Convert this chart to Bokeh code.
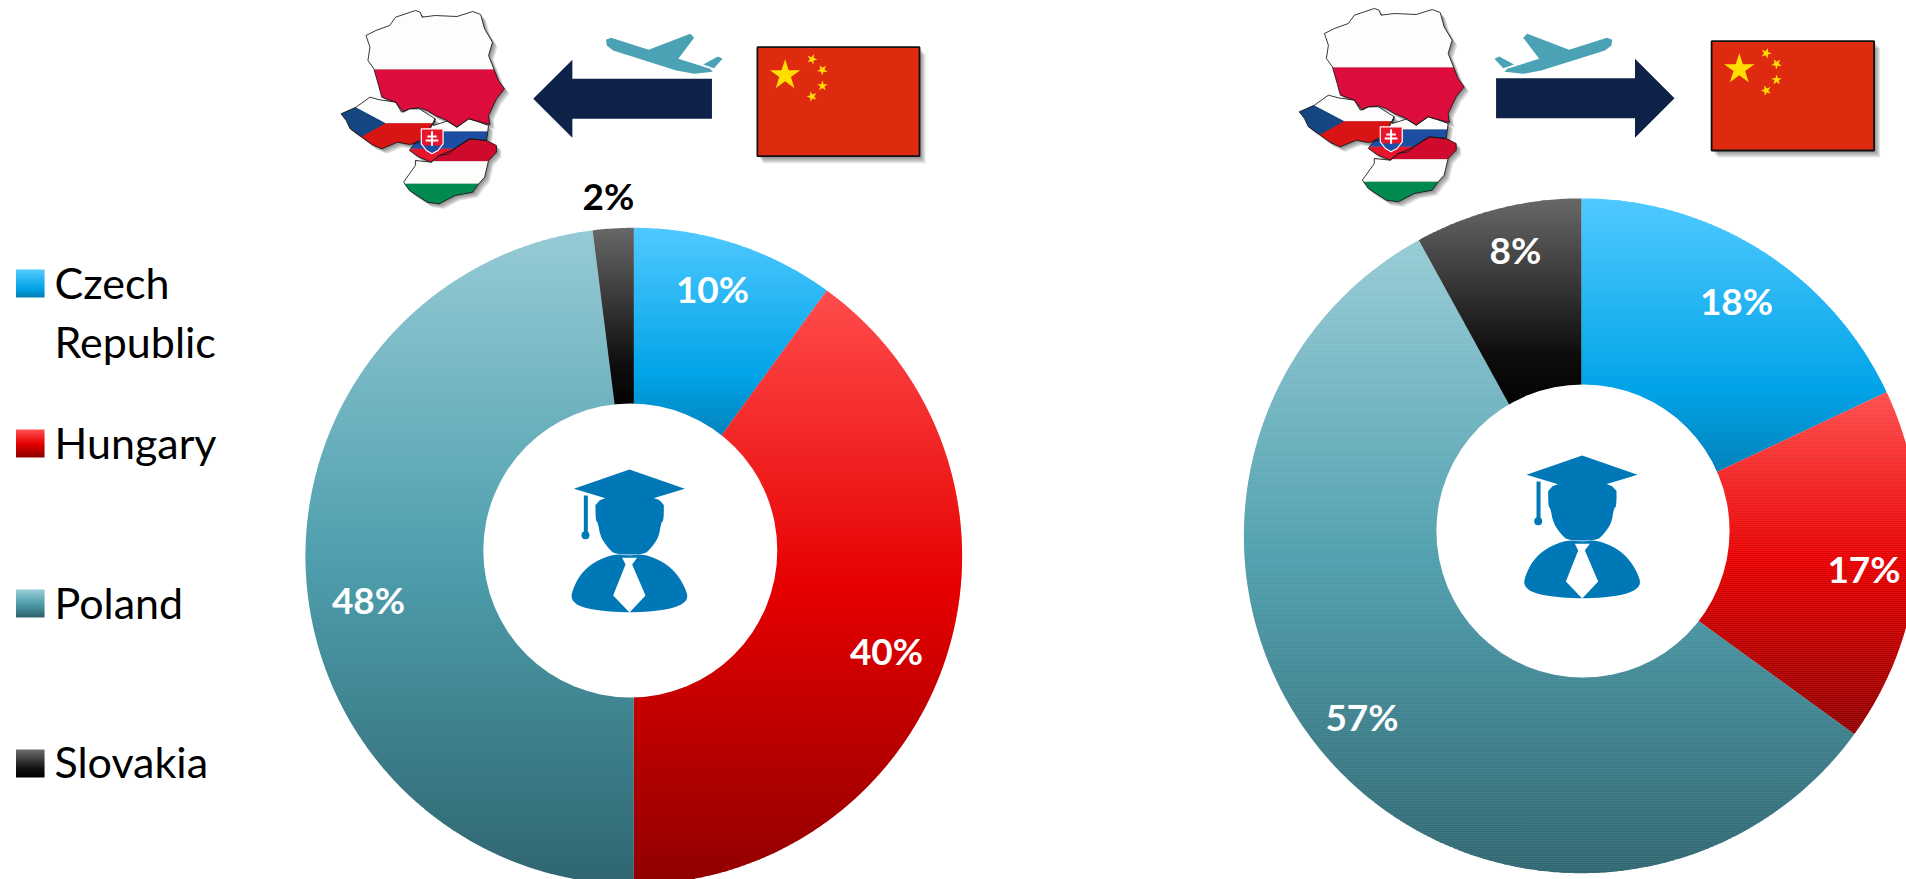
from bokeh.plotting import figure
from bokeh.models import ColumnDataSource, Range1d
from bokeh.core.properties import value
from bokeh.embed import file_html
from bokeh.resources import INLINE
import math

# Shares of students by V4 country, clockwise from twelve o'clock
countries = ["Czech Republic", "Hungary", "Poland", "Slovakia"]
inbound_share = [10, 40, 48, 2]
outbound_share = [18, 17, 57, 8]

legend_rows = ["Czech", "Republic", "Hungary", "Poland", "Slovakia"]

# Vertical gradient stops (offset, colour) of each slice, top to bottom
gradients = [
    [(0.0, "#50c9ff"), (0.68, "#02a4e8"), (1.0, "#0380b8")],
    [(0.0, "#ff4d4d"), (0.5, "#e60000"), (1.0, "#900000")],
    [(0.0, "#96cbd5"), (0.5, "#4f9fae"), (1.0, "#2f6670")],
    [(0.0, "#686868"), (0.72, "#0e0e0e"), (1.0, "#000000")],
]

WIDTH, HEIGHT = 1906, 879
p = figure(width=WIDTH, height=HEIGHT, output_backend="svg", toolbar_location=None,
           x_range=Range1d(0, WIDTH), y_range=Range1d(HEIGHT, 0), min_border=0)
p.axis.visible = False
p.grid.visible = False
p.outline_line_color = None
p.background_fill_color = "white"
p.border_fill_color = "white"


def hex_rgb(h):
    return tuple(int(h[i:i + 2], 16) for i in (1, 3, 5))


def ramp(stops, t):
    t = min(max(t, 0.0), 1.0)
    for (a, ca), (b, cb) in zip(stops, stops[1:]):
        if t <= b:
            f = (t - a) / (b - a)
            ra, rb = hex_rgb(ca), hex_rgb(cb)
            return "#%02x%02x%02x" % tuple(round(x + (y - x) * f) for x, y in zip(ra, rb))
    return stops[-1][1]


def clip_half(poly, inside, cross):
    out = []
    for i, cur in enumerate(poly):
        prev = poly[i - 1]
        if inside(cur):
            if not inside(prev):
                out.append(cross(prev, cur))
            out.append(cur)
        elif inside(prev):
            out.append(cross(prev, cur))
    return out


def clip_y(poly, y0, y1):
    def at(level):
        def cross(a, b):
            f = (level - a[1]) / (b[1] - a[1])
            return (a[0] + (b[0] - a[0]) * f, level)
        return cross
    poly = clip_half(poly, lambda q: q[1] >= y0, at(y0))
    if poly:
        poly = clip_half(poly, lambda q: q[1] <= y1, at(y1))
    return poly


def clip_side(poly, a, b):
    # keeps the part of poly on one side of the directed edge a-b
    def side(q):
        return (b[0] - a[0]) * (q[1] - a[1]) - (b[1] - a[1]) * (q[0] - a[0])

    def cross(s, e):
        f = side(s) / (side(s) - side(e))
        return (s[0] + (e[0] - s[0]) * f, s[1] + (e[1] - s[1]) * f)
    return clip_half(poly, lambda q: side(q) >= 0, cross)


def fill(poly, color, **kw):
    if poly:
        p.patch([q[0] for q in poly], [q[1] for q in poly], fill_color=color, line_color=None, **kw)


def chaikin(poly, rounds=2):
    for _ in range(rounds):
        out = []
        for i, a in enumerate(poly):
            b = poly[(i + 1) % len(poly)]
            out.append((a[0] * 0.75 + b[0] * 0.25, a[1] * 0.75 + b[1] * 0.25))
            out.append((a[0] * 0.25 + b[0] * 0.75, a[1] * 0.25 + b[1] * 0.75))
        poly = out
    return poly


def draw_pie(shares, cx, cy, r, hole_x, hole_y, hole_r):
    total = sum(shares)
    start = 0.0
    inner = hole_r - 7
    xs, ys, colors = [], [], []
    for share, stops in zip(shares, gradients):
        end = start + share / total * 360.0
        n = max(2, int((end - start) * 2))
        angles = [math.radians(start + (end - start) * i / n) for i in range(n + 1)]
        rim = [(cx + r * math.sin(a), cy - r * math.cos(a)) for a in angles]
        core = [(cx + inner * math.sin(a), cy - inner * math.cos(a)) for a in reversed(angles)]
        sector = rim + core
        top = min(q[1] for q in sector)
        bottom = max(q[1] for q in sector)
        y = top
        while y < bottom:
            band = clip_y(sector, y, y + 2.7)
            if len(band) >= 3:
                xs.append([q[0] for q in band])
                ys.append([q[1] for q in band])
                colors.append(ramp(stops, (y + 1 - top) / (bottom - top)))
            y += 2.0
        start = end
    p.patches(xs, ys, fill_color=colors, line_color=None)
    p.circle(x=[hole_x], y=[hole_y], radius=hole_r, fill_color="white", line_color=None)


def to_page(pts, ox, oy, sx=3.0, sy=3.0, mirror=None):
    if mirror is not None:
        return [(ox + (mirror - x) / sx, oy + y / sy) for x, y in pts]
    return [(ox + x / sx, oy + y / sy) for x, y in pts]


def soft_shadow(poly, dx, dy, layers=5, alpha=0.11):
    for k in range(layers):
        f = (k + 1) / layers
        fill([(x + dx * f, y + dy * f) for x, y in poly], "#000000", fill_alpha=alpha)


POLAND = [(115, 105), (140, 90), (175, 75), (190, 50), (240, 30), (252, 35), (257, 50), (290, 45),
          (345, 48), (385, 33), (405, 42), (415, 85), (435, 125), (425, 165), (440, 210), (450, 240),
          (465, 265), (445, 295), (425, 345), (428, 372), (395, 362), (375, 355), (345, 380),
          (320, 360), (290, 345), (270, 330), (250, 322), (225, 325), (210, 335), (190, 305),
          (155, 290), (147, 255), (135, 205), (120, 180), (125, 140)]
CZECHIA = [(52, 340), (90, 320), (125, 290), (150, 298), (190, 305), (205, 335), (225, 325),
           (250, 325), (290, 355), (285, 368), (270, 400), (255, 425), (225, 432), (195, 425),
           (155, 445), (130, 432), (105, 410), (75, 385), (65, 360)]
SLOVAKIA = [(290, 355), (285, 375), (320, 362), (345, 380), (375, 355), (395, 362), (425, 375),
            (420, 420), (380, 415), (345, 440), (325, 460), (300, 465), (280, 485), (250, 470),
            (225, 450), (240, 425), (262, 415)]
HUNGARY = [(300, 465), (330, 450), (345, 440), (375, 415), (420, 420), (445, 435), (445, 455),
           (425, 480), (415, 530), (400, 550), (385, 575), (340, 585), (300, 610), (270, 605),
           (225, 570), (210, 545), (240, 495), (240, 480), (280, 485)]
SHIELD = [(255, 385), (310, 385), (310, 430), (297, 450), (282, 460), (268, 450), (255, 430)]


def draw_map(ox, oy, sx):
    pieces = [to_page(c, ox, oy, sx) for c in (POLAND, CZECHIA, SLOVAKIA, HUNGARY)]
    for piece in pieces:
        soft_shadow(piece, 5, 5, layers=4, alpha=0.13)
    pl, cz, sk, hu = pieces
    s = lambda v: oy + v / 3
    fx = lambda v: ox + v / sx
    fill(clip_y(pl, -1e4, s(207)), "#fdfdfb")
    fill(clip_y(pl, s(207), 1e4), "#dc0c3c")
    fill(clip_y(cz, -1e4, s(368)), "#fdfdfb")
    fill(clip_y(cz, s(368), 1e4), "#d91414")
    tri = to_page([(40, 290), (165, 368), (40, 450)], ox, oy, sx)
    blue = clip_side(clip_side(cz, tri[0], tri[1]), tri[1], tri[2])
    fill(blue, "#164682")
    fill(clip_y(sk, -1e4, s(393)), "#fdfdfb")
    fill(clip_y(sk, s(393), s(445)), "#1d4ea4")
    fill(clip_y(sk, s(445), 1e4), "#e8162c")
    fill(clip_y(hu, -1e4, s(482)), "#d00a2c")
    fill(clip_y(hu, s(482), s(550)), "#fdfdfb")
    fill(clip_y(hu, s(550), 1e4), "#008a50")
    for piece in pieces:
        p.patch([q[0] for q in piece], [q[1] for q in piece], fill_color=None,
                line_color="#141414", line_width=1.0, line_alpha=0.85)
    shield = to_page(SHIELD, ox, oy, sx)
    fill(shield, "#e8162c")
    fill(clip_y(shield, s(435), 1e4), "#1d4ea4")
    p.patch([q[0] for q in shield], [q[1] for q in shield], fill_color=None, line_color="white", line_width=1.2)
    p.segment([fx(282), fx(270), fx(266)], [s(392), s(408), s(420)],
              [fx(282), fx(294), fx(298)], [s(436), s(408), s(420)], line_color="white", line_width=2)


def star(cx, cy, r, turn=0.0):
    pts = []
    for i in range(10):
        a = math.radians(-90 + 36 * i + turn)
        rad = r if i % 2 == 0 else r * 0.382
        pts.append((cx + rad * math.cos(a), cy + rad * math.sin(a)))
    return pts


def draw_flag(x0, y0, x1, y1):
    rect = [(x0, y0), (x1, y0), (x1, y1), (x0, y1)]
    soft_shadow(rect, 6, 7, layers=5, alpha=0.10)
    p.patch([q[0] for q in rect], [q[1] for q in rect], fill_color="#de2b10", line_color="#111111", line_width=1.8)
    fill(star(x0 + 27.7, y0 + 28, 16), "#ffdf00")
    for dx, dy, t in [(54.6, 12, 20), (65, 22.7, 40), (65, 38.7, 0), (54.6, 49.3, -20)]:
        fill(star(x0 + dx, y0 + dy, 5.5, t), "#ffdf00")


PLANE_BODY = [(722, 118), (735, 112), (830, 148), (935, 100), (945, 112), (905, 175), (985, 205),
              (992, 214), (945, 220), (900, 210), (740, 150), (724, 135)]
PLANE_FIN = [(968, 192), (1005, 168), (1017, 175), (995, 203)]

CAP = [(130, 145), (297, 87), (463, 145), (297, 195)]
HEAD = [(195, 165), (195, 240), (202, 245), (210, 290), (235, 325), (255, 342), (340, 342),
        (360, 325), (385, 290), (392, 245), (400, 240), (400, 165)]
BODY = [(250, 340), (190, 365), (150, 400), (125, 450), (122, 478), (150, 500), (220, 512), (297, 516),
        (375, 512), (440, 500), (472, 478), (468, 450), (440, 400), (400, 365), (340, 340), (297, 346)]
TIE = [(275, 352), (320, 352), (305, 372), (345, 465), (297, 516), (248, 465), (285, 372)]
TASSEL = [(160, 165), (172, 165), (172, 275), (160, 275)]


def draw_student(ox, oy):
    blue = "#0078b8"
    fill(to_page(CAP, ox, oy), blue)
    fill(to_page(TASSEL, ox, oy), blue)
    fill(chaikin(to_page(HEAD, ox, oy), 2), blue)
    fill(chaikin(to_page(BODY, ox, oy), 2), blue)
    fill(to_page(TIE, ox, oy), "white")
    p.circle(x=[ox + 165 / 3], y=[oy + 284 / 3], radius=4, fill_color=blue, line_color=None)


def labels(xs, ys, texts, color, size, style="bold", align="center", baseline="middle"):
    src = ColumnDataSource(dict(x=xs, y=ys, t=texts))
    p.text(x="x", y="y", text="t", source=src, text_color=color, text_font=value("Lato"),
           text_font_size=size, text_font_style=style, text_align=align, text_baseline=baseline)


# Rings, with the white centre circle sitting slightly off the pie's own centre
draw_pie(inbound_share, 633.3, 555.6, 328.3, 629.8, 550.0, 147.0)
draw_pie(outbound_share, 1580.8, 535.3, 337.4, 1582.5, 530.5, 146.6)

draw_student(530, 440)
draw_student(1482.7, 426)

ARROW_NAVY = "#0e2148"
PLANE_TEAL = "#4aa2b4"

# Arrival panel header: map, arrow, plane, flag
SX_L, SX_R = 2.529, 2.505
draw_map(320, 0, SX_L)
fill(to_page([(538, 295), (637, 178), (637, 235), (990, 235), (990, 355), (637, 355), (637, 412)], 320, 0, SX_L), ARROW_NAVY)
fill(to_page(PLANE_BODY, 320, 0, SX_L), PLANE_TEAL)
fill(to_page(PLANE_FIN, 320, 0, SX_L), PLANE_TEAL)
draw_flag(756.9, 46.7, 919, 155.7)

# Departure panel header
draw_map(1278, -2, SX_R)
fill(to_page([(987, 293), (888, 175), (888, 233), (540, 233), (540, 353), (888, 353), (888, 412)], 1280, 0, SX_R), ARROW_NAVY)
fill(to_page(PLANE_BODY, 1280, 0, SX_R, mirror=1553), PLANE_TEAL)
fill(to_page(PLANE_FIN, 1280, 0, SX_R, mirror=1553), PLANE_TEAL)
draw_flag(1711.1, 40.7, 1873.6, 150)

# Value labels
labels([712, 886, 368], [288, 650, 599],
       [f"{inbound_share[0]}%", f"{inbound_share[1]}%", f"{inbound_share[2]}%"], "white", "37px")
labels([608], [195], [f"{inbound_share[3]}%"], "black", "37px")
labels([1736, 1863.5, 1361.5, 1515], [300, 568, 716, 249],
       [f"{outbound_share[0]}%", f"{outbound_share[1]}%", f"{outbound_share[2]}%", f"{outbound_share[3]}%"],
       "white", "37px")

# Legend swatches and names
swatch_tops = [269, 429, 589, 749]
for top, stops in zip(swatch_tops, gradients):
    xs, ys, colors = [], [], []
    for k in range(14):
        bottom = top + k * 2 + 2.6 if k < 13 else top + 28
        xs.append([15.5, 44, 44, 15.5])
        ys.append([top + k * 2, top + k * 2, bottom, bottom])
        colors.append(ramp(stops, k / 13))
    p.patches(xs, ys, fill_color=colors, line_color=None)

labels([54] * 5, [282, 341, 442, 602, 761], legend_rows, "black", "43px",
       style="normal", align="left")

open("out.html", "w").write(file_html(p, INLINE))
